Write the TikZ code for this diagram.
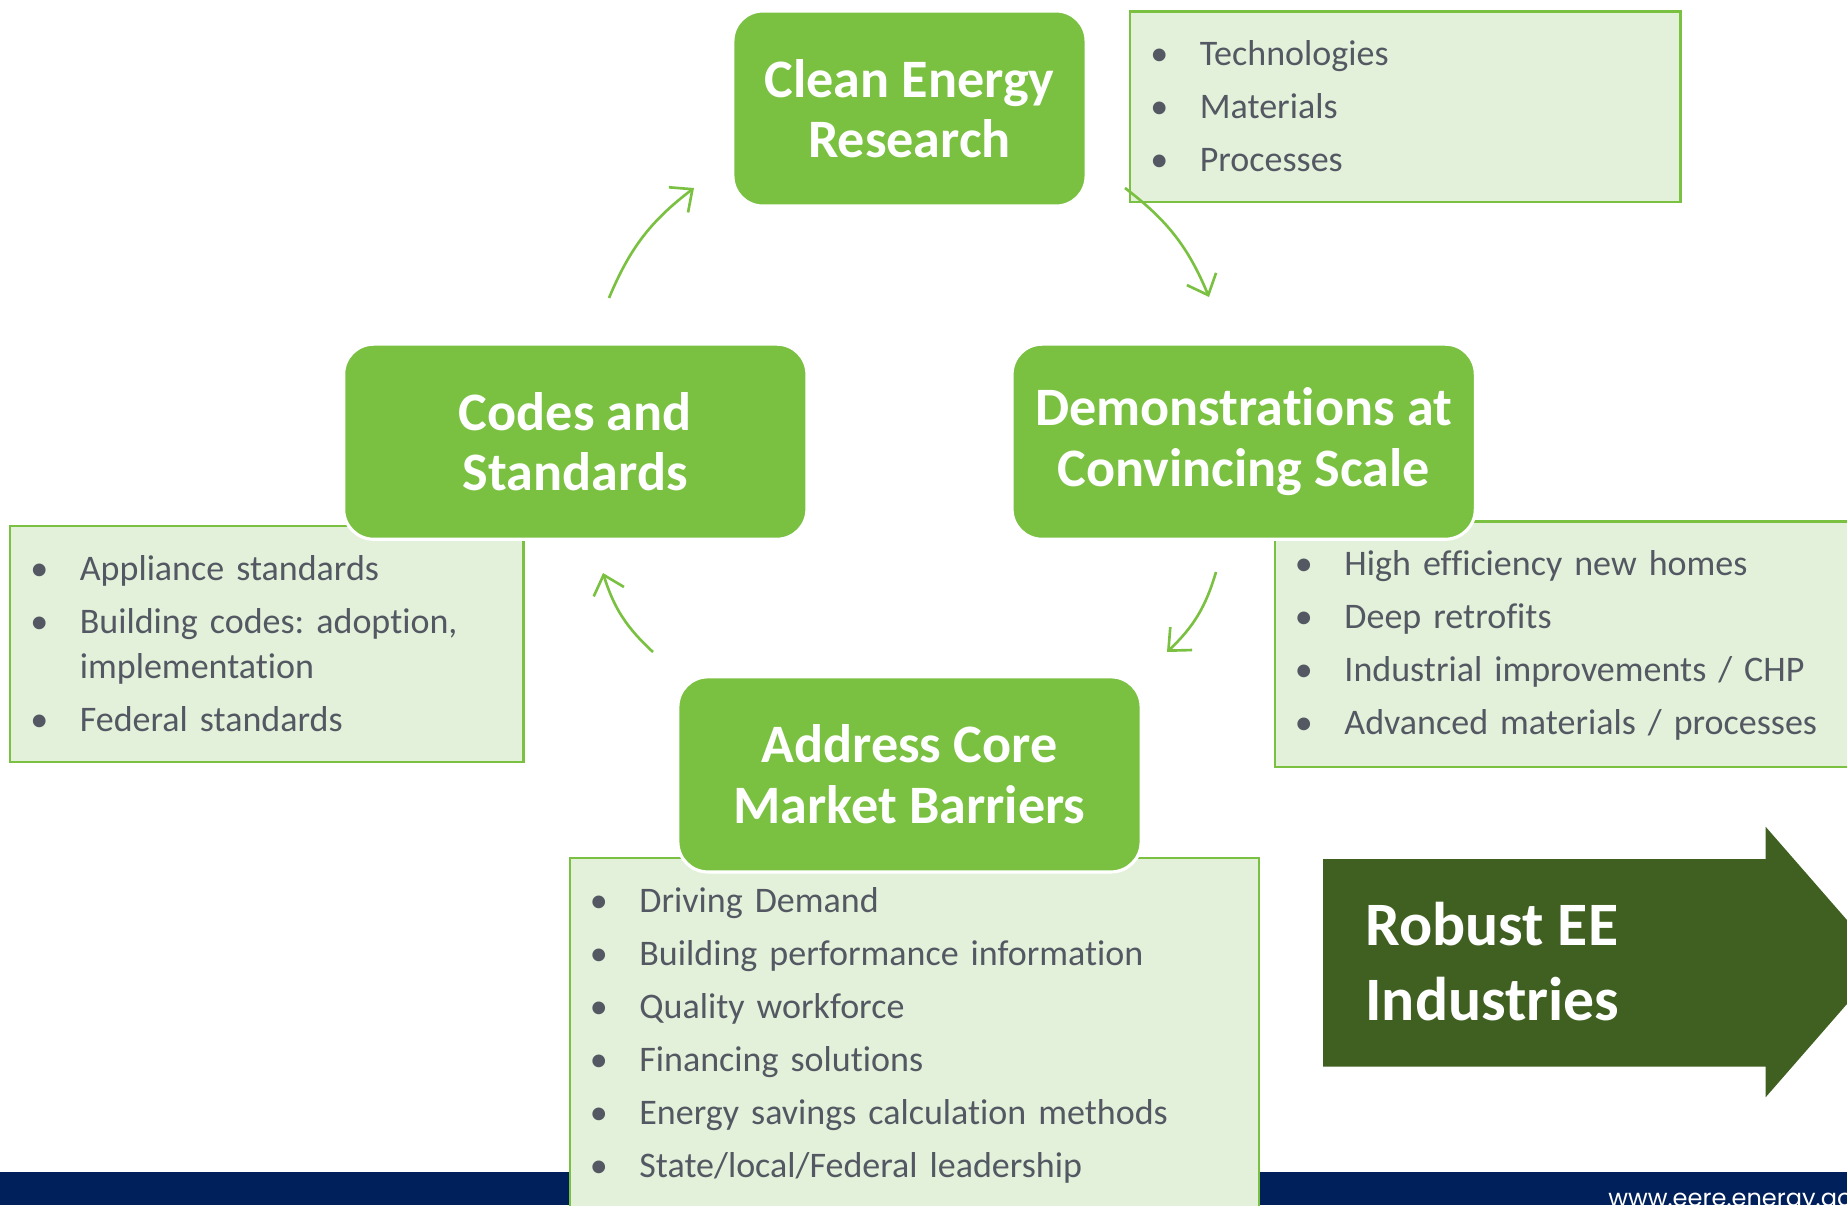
\documentclass[tikz,border=0pt]{standalone}
\usepackage{fontspec}
\setmainfont{Carlito}[Ligatures=NoCommon]
\newfontfamily\urlfont{Poppins}
\usetikzlibrary{arrows.meta,positioning}
\definecolor{boxgreen}{RGB}{122,193,66}
\definecolor{listfill}{RGB}{228,241,218}
\definecolor{listtext}{RGB}{83,88,98}
\definecolor{deepgreen}{RGB}{63,96,33}
\definecolor{bandblue}{RGB}{0,32,91}
\frenchspacing
\begin{document}
\begin{tikzpicture}[x=0.01cm,y=-0.01cm,on grid,
    stage/.style={rectangle,rounded corners=0.3cm,fill=boxgreen,draw=white,line width=0.9pt,text=white,align=center,inner sep=0pt,minimum width=4.63cm,minimum height=1.95cm,font=\bfseries\fontsize{15.4}{17.2}\selectfont},
    facts/.style={rectangle,fill=listfill,draw=boxgreen,line width=0.7pt,text=listtext,inner sep=0pt,text height=15.4pt,font=\fontsize{10.24}{12.8}\selectfont},
    turn/.style={-{Straight Barb[length=5pt,width=9pt]},draw=boxgreen,line width=0.75pt,bend left=15}]
    \useasboundingbox (0,0) rectangle (1847,1205);
    \clip (0,0) rectangle (1847,1205);
    \fill[bandblue] (0,1171.7) rectangle (1847,1205);
    \node[anchor=base west,text=white,font=\urlfont\fontsize{6.85}{8}\selectfont] (url) at (1596,1206) {www.eere.energy.gov};
    \node[facts,minimum width=5.50cm,minimum height=1.90cm,text width=5.50cm,text depth=38.7pt] (topics) at (1405.4,106.7) {%
        \begin{tabular}[t]{@{\hspace{5.7pt}}p{14.1pt}@{}l@{}}
        \textbullet & Technologies\\[2.28pt]
        \textbullet & Materials\\[2.28pt]
        \textbullet & Processes
        \end{tabular}};
    \node[facts,minimum width=5.13cm,minimum height=2.357cm,text width=5.13cm,text depth=51.7pt] (rules) at (266.9,643.9) {%
        \begin{tabular}[t]{@{\hspace{5.7pt}}p{14.1pt}@{}l@{}}
        \textbullet & Appliance standards\\[2.28pt]
        \textbullet & Building codes: adoption,\\
                    & implementation\\[2.28pt]
        \textbullet & Federal standards
        \end{tabular}};
    \node[facts,minimum width=5.85cm,minimum height=2.45cm,text width=5.85cm,text depth=54.3pt] (pilots) at (1567.5,644.2) {%
        \begin{tabular}[t]{@{\hspace{5.7pt}}p{14.1pt}@{}l@{}}
        \textbullet & High efficiency new homes\\[2.28pt]
        \textbullet & Deep retrofits\\[2.28pt]
        \textbullet & Industrial improvements / CHP\\[2.28pt]
        \textbullet & Advanced materials / processes
        \end{tabular}};
    \node[facts,minimum width=6.89cm,minimum height=3.522cm,text width=6.89cm,text depth=84.8pt] (levers) at (914.5,1034.4) {%
        \begin{tabular}[t]{@{\hspace{5.7pt}}p{14.1pt}@{}l@{}}
        \textbullet & Driving Demand\\[2.28pt]
        \textbullet & Building performance information\\[2.28pt]
        \textbullet & Quality workforce\\[2.28pt]
        \textbullet & Financing solutions\\[2.28pt]
        \textbullet & Energy savings calculation methods\\[2.28pt]
        \textbullet & State/local/Federal leadership
        \end{tabular}};
    \node[stage,minimum width=3.53cm] (research) at (909.5,108.5) {Clean Energy\\Research};
    \node[stage] (codes) [below left=3.33cm and 3.34cm of research] {Codes and\\Standards};
    \node[stage] (demo) [below right=3.33cm and 3.34cm of research] {Demonstrations at\\Convincing Scale};
    \node[stage] (barriers) [below=6.655cm of research] {Address Core\\Market Barriers};
    \coordinate (c1) at (609,298);
    \coordinate (c2) at (694,188);
    \coordinate (d1) at (1125,188);
    \coordinate (d2) at (1209,297);
    \coordinate (b1) at (1216,572);
    \coordinate (b2) at (1167,652);
    \coordinate (a1) at (653,652);
    \coordinate (a2) at (603,573);
    \draw[turn] (c1) to (c2);
    \draw[turn] (d1) to (d2);
    \draw[turn] (b1) to (b2);
    \draw[turn] (a1) to (a2);
    \fill[deepgreen] (1323,859) -- (1765.6,859) -- (1765.6,826.7) -- (1883.6,962) -- (1765.6,1097.3) -- (1765.6,1066.7) -- (1323,1066.7) -- cycle;
    \node[anchor=base west,align=left,text=white,font=\bfseries\fontsize{17.56}{21.05}\selectfont] (robust) at (1353,1020) {Robust EE\\Industries};
\end{tikzpicture}
\end{document}
